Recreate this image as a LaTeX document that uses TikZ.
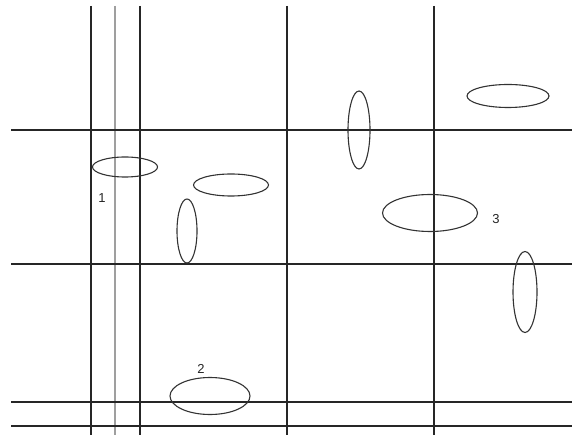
\documentclass[tikz,border=0pt]{standalone}
\usepackage{fontspec}
\setmainfont{Liberation Sans}
\usetikzlibrary{shapes.geometric}
\tikzset{
  gridline/.style  = {line width=1.3pt,black!85},
  paleline/.style  = {line width=1.4pt,gray!75},
  blob/.style      = {draw,ellipse,line width=1.1pt,black!80,inner sep=0pt},
  tag/.style       = {font=\fontsize{13}{15}\selectfont,black!85,inner sep=0pt}
}
\begin{document}
\begin{tikzpicture}[x=1pt,y=-1pt]
  \useasboundingbox[fill=white] (0,0) rectangle (572,435);
  % grid of lines
  \foreach \gx in {91,140,287,434}
    \draw[gridline] (\gx,6) -- (\gx,435);
  \draw[paleline] (115,6) -- (115,435);
  \foreach \gy in {130,264,402,426}
    \draw[gridline] (11,\gy) -- (572,\gy);
  % ellipses
  \node[blob,minimum width=65pt,minimum height=20pt] (one)   at (125,167) {};
  \node[blob,minimum width=75pt,minimum height=22pt] (mid)   at (231,185) {};
  \node[blob,minimum width=20pt,minimum height=64pt] (low)   at (187,231) {};
  \node[blob,minimum width=80pt,minimum height=37pt] (two)   at (210,396) {};
  \node[blob,minimum width=22pt,minimum height=78pt] (upper) at (359,130) {};
  \node[blob,minimum width=95pt,minimum height=37pt] (three) at (430,213) {};
  \node[blob,minimum width=82pt,minimum height=23pt] (top)   at (508,96) {};
  \node[blob,minimum width=24pt,minimum height=81pt] (right) at (525,292) {};
  % labels
  \node[tag] (l1) at (102,198) {1};
  \node[tag] (l2) at (201,369) {2};
  \node[tag] (l3) at (496,219) {3};
\end{tikzpicture}
\end{document}
